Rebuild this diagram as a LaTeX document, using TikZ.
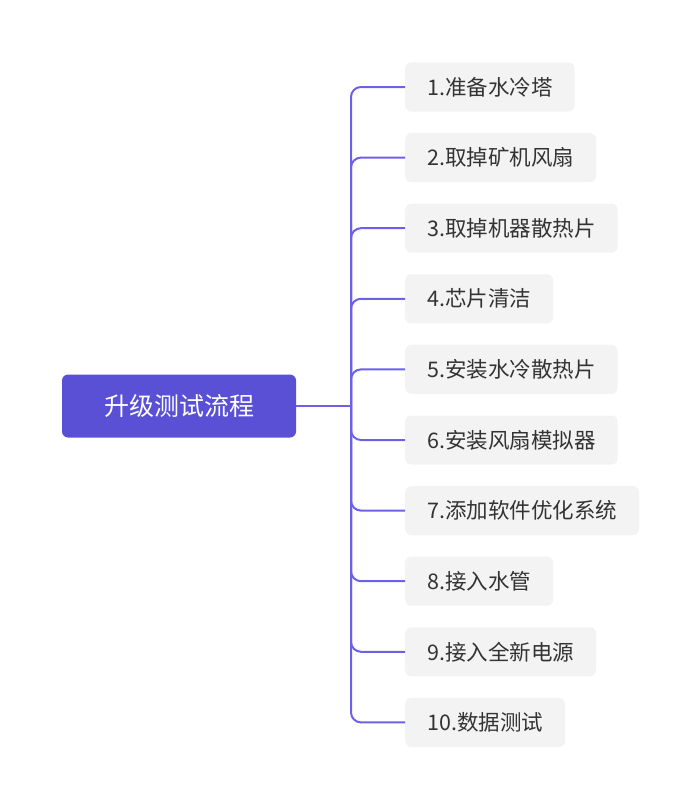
\documentclass[tikz,border=0pt]{standalone}
\usepackage{fontspec}
\newfontfamily\cjk{Noto Sans CJK SC}
\definecolor{rootfill}{RGB}{89,80,214}
\definecolor{linec}{RGB}{108,96,235}
\definecolor{childfill}{RGB}{243,243,243}
\definecolor{childtext}{RGB}{51,51,51}
\tikzset{
  rootbox/.style={fill=rootfill, rounded corners=6pt, minimum width=234pt, minimum height=63pt,
    text=white, font=\cjk\fontsize{25}{30}\selectfont, inner sep=0pt},
  childbox/.style={fill=childfill, rounded corners=6pt, anchor=west, minimum height=49pt,
    inner xsep=22pt, inner ysep=0pt, text=childtext, font=\cjk\fontsize{21.5}{25}\selectfont},
  link/.style={draw=linec, line width=2pt},
}
\begin{document}
\begin{tikzpicture}[x=1pt,y=-1pt]
\useasboundingbox (0,0) rectangle (700,808);
\node[rootbox] (root) at (179,406) {升级测试流程};
\coordinate (hub) at (351,406);
\foreach \i/\t in {1/1.准备水冷塔,2/2.取掉矿机风扇,3/3.取掉机器散热片,4/4.芯片清洁,5/5.安装水冷散热片,6/6.安装风扇模拟器,7/7.添加软件优化系统,8/8.接入水管,9/9.接入全新电源,10/10.数据测试}{
  \node[childbox] (c\i) at (405,{87+(\i-1)*70.6}) {\t};
  \draw[link, rounded corners=10pt] (hub) |- (c\i.west);
}
\draw[link] (root.east) -- (hub);
\end{tikzpicture}
\end{document}
